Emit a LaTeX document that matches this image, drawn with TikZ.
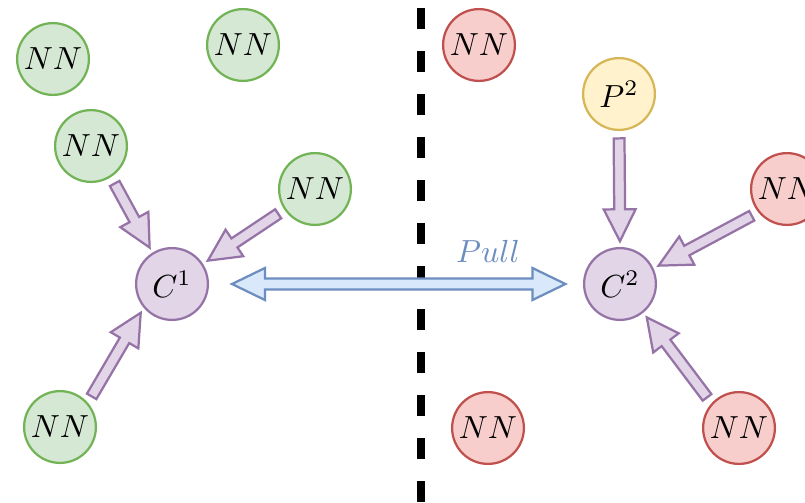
\documentclass[tikz,border=0pt]{standalone}
\usetikzlibrary{calc}

\definecolor{gfill}{HTML}{D5E8D4}
\definecolor{gline}{HTML}{72B356}
\definecolor{rfill}{HTML}{F8CECC}
\definecolor{rline}{HTML}{C0504D}
\definecolor{yfill}{HTML}{FFF2CC}
\definecolor{yline}{HTML}{D6B656}
\definecolor{pfill}{HTML}{E1D5E7}
\definecolor{pline}{HTML}{9673A6}
\definecolor{bfill}{HTML}{DAE8FC}
\definecolor{bline}{HTML}{6C8EBF}

% fat arrow between two anchors of the circles
\newcommand{\blockarrow}[2]{%
  \path ($(#1)!2.3pt!(#2)$) coordinate (s) ($(#2)!1.8pt!(#1)$) coordinate (t);
  \path ($(t)!10pt!(s)$) coordinate (h);
  \draw[pushed] ($(s)!1.7pt!90:(t)$) -- ($(h)!1.7pt!90:(t)$) -- ($(h)!5pt!90:(t)$)
    -- (t) -- ($(h)!5pt!-90:(t)$) -- ($(h)!1.7pt!-90:(t)$) -- ($(s)!1.7pt!-90:(t)$) -- cycle;
}

\begin{document}
\begin{tikzpicture}[x=0.011cm,y=-0.011cm,
    ball/.style={circle,line width=0.7pt,minimum size=0.79cm,inner sep=0pt},
    client/.style={ball,fill=gfill,draw=gline},
    other/.style={ball,fill=rfill,draw=rline},
    server/.style={ball,fill=yfill,draw=yline},
    center/.style={ball,fill=pfill,draw=pline},
    pushed/.style={fill=pfill,draw=pline,line width=0.7pt,line join=miter},
    pulled/.style={fill=bfill,draw=bline,line width=0.7pt,line join=miter},
    divider/.style={line width=2.5pt,dash pattern=on 6.57pt off 6.89pt,dash phase=10.96pt}]
  \clip (0,0) rectangle (805,502);

  % left side
  \node[client] (g1) at (53,59) {$NN$};
  \node[client] (g2) at (243,45) {$NN$};
  \node[client] (g3) at (91,146) {$NN$};
  \node[client] (g4) at (315,189) {$NN$};
  \node[client] (g5) at (60,427) {$NN$};
  \node[center] (c1) at (172,284) {$C^1$};

  % right side
  \node[other] (r1) at (479,45) {$NN$};
  \node[server] (p2) at (619,94) {$P^2$};
  \node[other] (r2) at (787,189) {$NN$};
  \node[other] (r3) at (488,428) {$NN$};
  \node[other] (r4) at (739,428) {$NN$};
  \node[center] (c2) at (620,284) {$C^2$};

  \draw[divider] (421,0) -- (421,502);

  \blockarrow{g3.-57}{c1.122}
  \blockarrow{g4.214}{c1.33}
  \blockarrow{g5.41}{c1.220}
  \blockarrow{p2.south}{c2.north}
  \blockarrow{r2.219}{c2.25}
  \blockarrow{r4.138}{c2.-51}

  % pull between the two centres
  \path ($(c1)!0.66cm!(c2)$) coordinate (a) ($(c2)!0.6cm!(c1)$) coordinate (b);
  \path ($(a)!10.3pt!(b)$) coordinate (ha) ($(b)!10.3pt!(a)$) coordinate (hb);
  \draw[pulled] (a) -- ($(ha)!5pt!90:(b)$) -- ($(ha)!1.7pt!90:(b)$) -- ($(hb)!1.7pt!-90:(a)$)
    -- ($(hb)!5pt!-90:(a)$) -- (b) -- ($(hb)!5pt!90:(a)$) -- ($(hb)!1.7pt!90:(a)$)
    -- ($(ha)!1.7pt!-90:(b)$) -- ($(ha)!5pt!-90:(b)$) -- cycle;
  \node[text=bline] (pull) at (488,251) {$Pull$};
\end{tikzpicture}
\end{document}
